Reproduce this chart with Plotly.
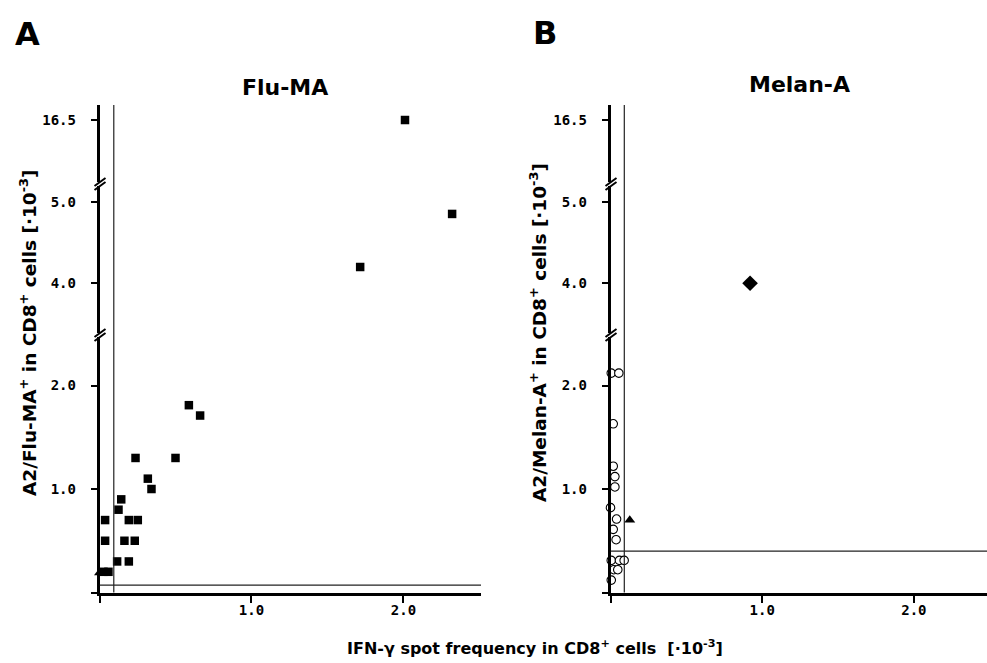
import plotly.graph_objects as go
import numpy as np

# ---------------- data ----------------
# Panel A: Flu-MA (filled squares)
flu_x = [2.01, 2.32, 1.715, 0.588, 0.662, 0.237, 0.50, 0.318, 0.342, 0.143, 0.125,
         0.037, 0.193, 0.252, 0.037, 0.164, 0.232, 0.116, 0.193, 0.026, 0.059]
flu_y = [16.5, 4.85, 4.2, 1.81, 1.71, 1.3, 1.3, 1.1, 1.0, 0.9, 0.8,
         0.7, 0.7, 0.7, 0.5, 0.5, 0.5, 0.3, 0.3, 0.2, 0.2]
flu_tri_x = [0.0]
flu_tri_y = [0.19]

# Panel B: Melan-A (open circles, one triangle, one diamond)
mel_circ_x = [0.005, 0.055, 0.018, 0.018, 0.029, 0.029, 0.0, 0.04, 0.018, 0.037,
              0.005, 0.059, 0.09, 0.022, 0.048, 0.005]
mel_circ_y = [2.12, 2.12, 1.63, 1.22, 1.12, 1.02, 0.82, 0.71, 0.61, 0.51,
              0.31, 0.31, 0.31, 0.22, 0.22, 0.12]
mel_tri_x = [0.127]
mel_tri_y = [0.70]
mel_dia_x = [0.92]
mel_dia_y = [4.0]

# threshold lines
flu_thr_x, flu_thr_y = 0.094, 0.072
mel_thr_x, mel_thr_y = 0.091, 0.40

# y tick labels per axis segment
seg_ticks = [[0, 1.0, 2.0], [4.0, 5.0], [16.5]]
seg_ticktext = [["", "1.0", "2.0"], ["4.0", "5.0"], ["16.5"]]
x_ticks = [0, 1.0, 2.0]
x_ticktext = ["", "1.0", "2.0"]

# ---------------- layout geometry ----------------
W, H = 987, 663
def fx(p): return p / W
def fy(p): return 1 - p / H

Y_BOT, Y_B1, Y_B2, Y_TOP = 592.5, 334.5, 183.5, 105
seg_dom = [[fy(Y_BOT), fy(Y_B1)], [fy(Y_B1), fy(Y_B2)], [fy(Y_B2), fy(Y_TOP)]]
seg_rng = [[0, 2.493], [3.373, 5.223], [15.722, 16.684]]

panels = [
    dict(x0=99.5, x1=481, xrange=[0, 2.51]),
    dict(x0=610.5, x1=987, xrange=[0, 2.482]),
]

tickfont = dict(family="DejaVu Sans Mono", size=14, color="black", weight="bold")

fig = go.Figure()
layout = dict(width=W, height=H, margin=dict(l=0, r=0, t=0, b=0),
              paper_bgcolor="white", plot_bgcolor="white", showlegend=False)

for pi, p in enumerate(panels):
    xname = "xaxis" if pi == 0 else "xaxis2"
    xref = "x" if pi == 0 else "x2"
    first_y = 1 + 3 * pi
    layout[xname] = dict(domain=[fx(p["x0"]), fx(p["x1"])], range=p["xrange"],
                         anchor="y" if pi == 0 else "y4",
                         showline=True, linewidth=2.5, linecolor="black",
                         ticks="outside", ticklen=8, tickwidth=2, tickcolor="black",
                         tickvals=x_ticks, ticktext=x_ticktext, tickfont=tickfont,
                         ticklabelstandoff=-5,
                         showgrid=False, zeroline=False, fixedrange=True)
    for si in range(3):
        n = first_y + si
        yname = "yaxis" if n == 1 else f"yaxis{n}"
        layout[yname] = dict(domain=seg_dom[si], range=seg_rng[si], anchor=xref,
                             showline=True, linewidth=2.5, linecolor="black",
                             ticks="outside", ticklen=6, tickwidth=2, tickcolor="black",
                             tickvals=seg_ticks[si], ticktext=seg_ticktext[si],
                             tickfont=tickfont, ticklabelstandoff=12,
                             showgrid=False, zeroline=False, fixedrange=True)
        # empty trace so that every axis segment is drawn
        fig.add_trace(go.Scatter(x=[], y=[], xaxis=xref,
                                 yaxis="y" if n == 1 else f"y{n}", mode="markers"))


def add_series(xs, ys, panel, marker):
    xs = np.asarray(xs, float)
    ys = np.asarray(ys, float)
    xref = "x" if panel == 0 else "x2"
    for si, (lo, hi) in enumerate(seg_rng):
        m = (ys >= lo) & (ys <= hi)
        if not m.any():
            continue
        n = 1 + 3 * panel + si
        yref = "y" if n == 1 else f"y{n}"
        fig.add_trace(go.Scatter(x=xs[m], y=ys[m], mode="markers", xaxis=xref, yaxis=yref,
                                 marker=marker, cliponaxis=False, hoverinfo="x+y"))


sq = dict(symbol="square", size=8.5, color="black", line=dict(width=0))
tri = dict(symbol="triangle-up", size=9.5, color="black", line=dict(width=0))
circ = dict(symbol="circle", size=8.5, color="white", line=dict(width=1.1, color="black"))
dia = dict(symbol="diamond", size=12, color="black", line=dict(width=0))

add_series(flu_x, flu_y, 0, sq)
add_series(flu_tri_x, flu_tri_y, 0, tri)
add_series(mel_circ_x, mel_circ_y, 1, circ)
add_series(mel_tri_x, mel_tri_y, 1, tri)
add_series(mel_dia_x, mel_dia_y, 1, dia)

shapes = []
# threshold lines
shapes.append(dict(type="line", xref="x", yref="paper", x0=flu_thr_x, x1=flu_thr_x,
                   y0=fy(Y_BOT), y1=fy(Y_TOP), line=dict(color="#222", width=1.2)))
shapes.append(dict(type="line", xref="x", yref="y", x0=0, x1=panels[0]["xrange"][1],
                   y0=flu_thr_y, y1=flu_thr_y, line=dict(color="#222", width=1.2)))
shapes.append(dict(type="line", xref="x2", yref="paper", x0=mel_thr_x, x1=mel_thr_x,
                   y0=fy(Y_BOT), y1=fy(Y_TOP), line=dict(color="#222", width=1.2)))
shapes.append(dict(type="line", xref="x2", yref="y4", x0=0, x1=panels[1]["xrange"][1],
                   y0=mel_thr_y, y1=mel_thr_y, line=dict(color="#222", width=1.2)))

# axis break marks "//"
for p in panels:
    ax = p["x0"]
    for by in (Y_B1, Y_B2):
        shapes.append(dict(type="rect", xref="paper", yref="paper",
                           x0=fx(ax - 3), x1=fx(ax + 3), y0=fy(by + 2.5), y1=fy(by - 1.5),
                           fillcolor="white", line=dict(width=0), layer="above"))
        for off in (-1.5, 2.5):
            shapes.append(dict(type="line", xref="paper", yref="paper",
                               x0=fx(ax - 5), y0=fy(by + off + 4),
                               x1=fx(ax + 6), y1=fy(by + off - 4),
                               line=dict(color="black", width=2), layer="above"))
layout["shapes"] = shapes

bold = "DejaVu Sans"
ann = []
ann.append(dict(text="<b>A</b>", x=fx(27), y=fy(34), font=dict(family=bold, size=32, color="black")))
ann.append(dict(text="<b>B</b>", x=fx(545), y=fy(33), font=dict(family=bold, size=32, color="black")))
ann.append(dict(text="<b>Flu-MA</b>", x=fx(285), y=fy(88), font=dict(family=bold, size=22, color="black")))
ann.append(dict(text="<b>Melan-A</b>", x=fx(799), y=fy(85), font=dict(family=bold, size=22, color="black")))
ann.append(dict(text="<b>A2/Flu-MA<sup>+</sup> in CD8<sup>+</sup> cells [·10<sup>-3</sup>]</b>",
                x=fx(28), y=fy(333), textangle=-90, font=dict(family=bold, size=18.5, color="black")))
ann.append(dict(text="<b>A2/Melan-A<sup>+</sup> in CD8<sup>+</sup> cells [·10<sup>-3</sup>]</b>",
                x=fx(538), y=fy(333), textangle=-90, font=dict(family=bold, size=18.5, color="black")))
ann.append(dict(text="<b>IFN-γ spot frequency in CD8<sup>+</sup> cells  [·10<sup>-3</sup>]</b>",
                x=fx(535), y=fy(647), font=dict(family=bold, size=16, color="black")))
for a in ann:
    a.update(xref="paper", yref="paper", showarrow=False, xanchor="center", yanchor="middle")
layout["annotations"] = ann

fig.update_layout(**layout)
fig.write_html("out.html", config={"displayModeBar": False},
               post_script="document.body.style.margin='0px';document.body.style.overflow='hidden';")
